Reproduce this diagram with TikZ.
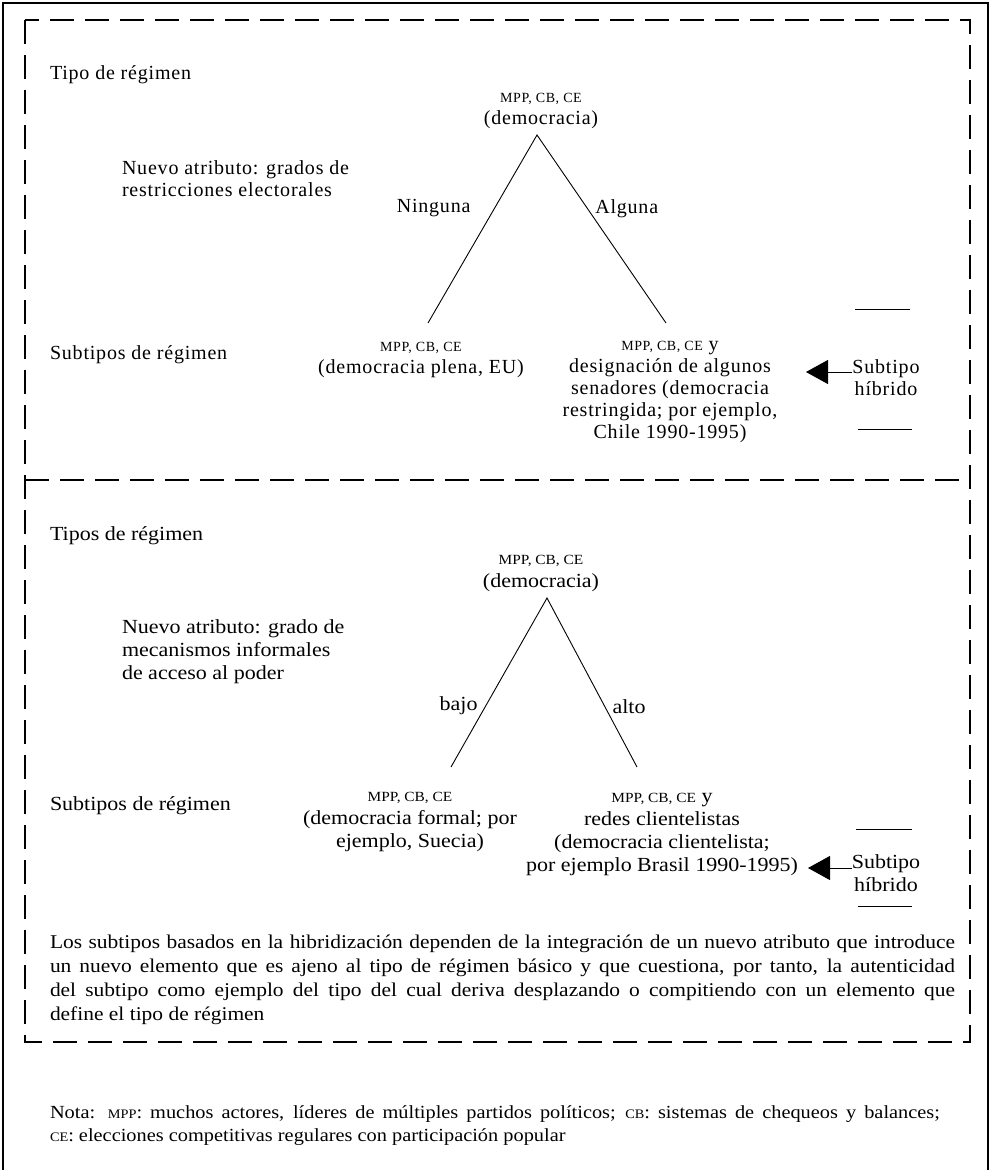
\documentclass[tikz,border=0pt]{standalone}
\usepackage{fontspec}
\setmainfont{Liberation Serif}
\newfontfamily\topfont[LetterSpace=4]{Liberation Serif}
\newfontfamily\botfont[FakeStretch=1.1]{Liberation Serif}
\newfontfamily\parfont[FakeStretch=1.1]{Liberation Serif}
\usetikzlibrary{arrows.meta}
\newcommand{\smc}[1]{{\fontsize{14}{15}\selectfont #1}}
\begin{document}
\begin{tikzpicture}[x=1pt,y=-1pt,
  every node/.style={inner sep=0pt, outer sep=0pt},
  lbl/.style={anchor=west, align=left},
  ctr/.style={align=center},
  tree/.style={line width=0.9pt},
  outerframe/.style={line width=1.3pt},
  dframe/.style={line width=1.3pt, dash pattern=on 24pt off 11pt},
  bar/.style={line width=1pt},
  harrow/.style={line width=1pt, -{Triangle[length=22pt,width=24pt]}}
]
\useasboundingbox (0,0) rectangle (991,1170);
% outer frame
\draw[outerframe] (3,1170) -- (3,3) -- (988,3) -- (988,1170);
% dashed boxes
\draw[dframe] (25,20) rectangle (970,1042);
\draw[dframe] (25,480) -- (970,480);

% ---------- top panel ----------
\begin{scope}[every node/.append style={font=\topfont\fontsize{20}{22}\selectfont}]
\node[lbl] (t1) at (50,75) {Tipo de régimen};
\node[ctr] (top1) at (541,111) {\smc{MPP, CB, CE}\\(democracia)};
\node[lbl] (attr1) at (122,179) {Nuevo atributo: grados de\\restricciones electorales};
\node[lbl] (s1) at (50,355) {Subtipos de régimen};
\node[ctr] (l1) at (421,360) {\smc{MPP, CB, CE}\\(democracia plena, EU)};
\node[ctr] (r1) at (670,392) {\smc{MPP, CB, CE} y\\designación de algunos\\senadores (democracia\\restringida; por ejemplo,\\Chile 1990-1995)};
\node[ctr] (h1) at (886,378) {Subtipo\\híbrido};
\coordinate (a1) at (537,135);
\coordinate (e1l) at (428,323);
\coordinate (e1r) at (666,323);
\coordinate (tip1) at (806,372);
\draw[tree] (e1l) -- (a1) -- (e1r);
\path (a1) -- (e1l) node[pos=0.39, anchor=east, xshift=-24pt] (nin) {Ninguna};
\path (a1) -- (e1r) node[pos=0.39, anchor=west, xshift=8pt] (alg) {Alguna};
\draw[harrow] (h1.west |- tip1) -- (tip1);
\draw[bar] (855,309) -- (910,309);
\draw[bar] (858,429) -- (912,429);
\end{scope}

% ---------- bottom panel ----------
\begin{scope}[every node/.append style={font=\botfont\fontsize{20}{23}\selectfont}]
\node[lbl] (t2) at (50,536) {Tipos de régimen};
\node[ctr] (top2) at (541,573) {\smc{MPP, CB, CE}\\(democracia)};
\node[lbl] (attr2) at (122,652) {Nuevo atributo: grado de\\mecanismos informales\\de acceso al poder};
\node[lbl] (s2) at (50,806) {Subtipos de régimen};
\node[ctr] (l2) at (410,822) {\smc{MPP, CB, CE}\\(democracia formal; por\\ejemplo, Suecia)};
\node[ctr] (r2) at (662,834) {\smc{MPP, CB, CE} y\\redes clientelistas\\(democracia clientelista;\\por ejemplo Brasil 1990-1995)};
\node[ctr] (h2) at (886,873) {Subtipo\\híbrido};
\coordinate (a2) at (547,598);
\coordinate (e2l) at (451,767);
\coordinate (e2r) at (637,767);
\coordinate (tip2) at (808,868);
\draw[tree] (e2l) -- (a2) -- (e2r);
\path (a2) -- (e2l) node[pos=0.64, anchor=east, xshift=-8pt] (bajo) {bajo};
\path (a2) -- (e2r) node[pos=0.64, anchor=west, xshift=8pt] (alto) {alto};
\draw[harrow] (h2.west |- tip2) -- (tip2);
\draw[bar] (856,829) -- (912,829);
\draw[bar] (858,906) -- (912,906);
\end{scope}

\node[anchor=north west, text width=905pt, align=justify, font=\parfont\fontsize{19.5}{24}\selectfont] (para) at (50,935)
{Los subtipos basados en la hibridización dependen de la integración de un nuevo atributo que introduce\linebreak
un nuevo elemento que es ajeno al tipo de régimen básico y que cuestiona, por tanto, la autenticidad\linebreak
del subtipo como ejemplo del tipo del cual deriva desplazando o compitiendo con un elemento que\linebreak
define el tipo de régimen};

\node[anchor=north west, text width=890pt, align=justify, font=\parfont\fontsize{18.5}{23}\selectfont] (nota) at (50,1106)
{Nota: {\fontsize{13}{14}\selectfont MPP}: muchos actores, líderes de múltiples partidos políticos; {\fontsize{13}{14}\selectfont CB}: sistemas de chequeos y balances;\linebreak
{\fontsize{13}{14}\selectfont CE}: elecciones competitivas regulares con participación popular};
\end{tikzpicture}
\end{document}
